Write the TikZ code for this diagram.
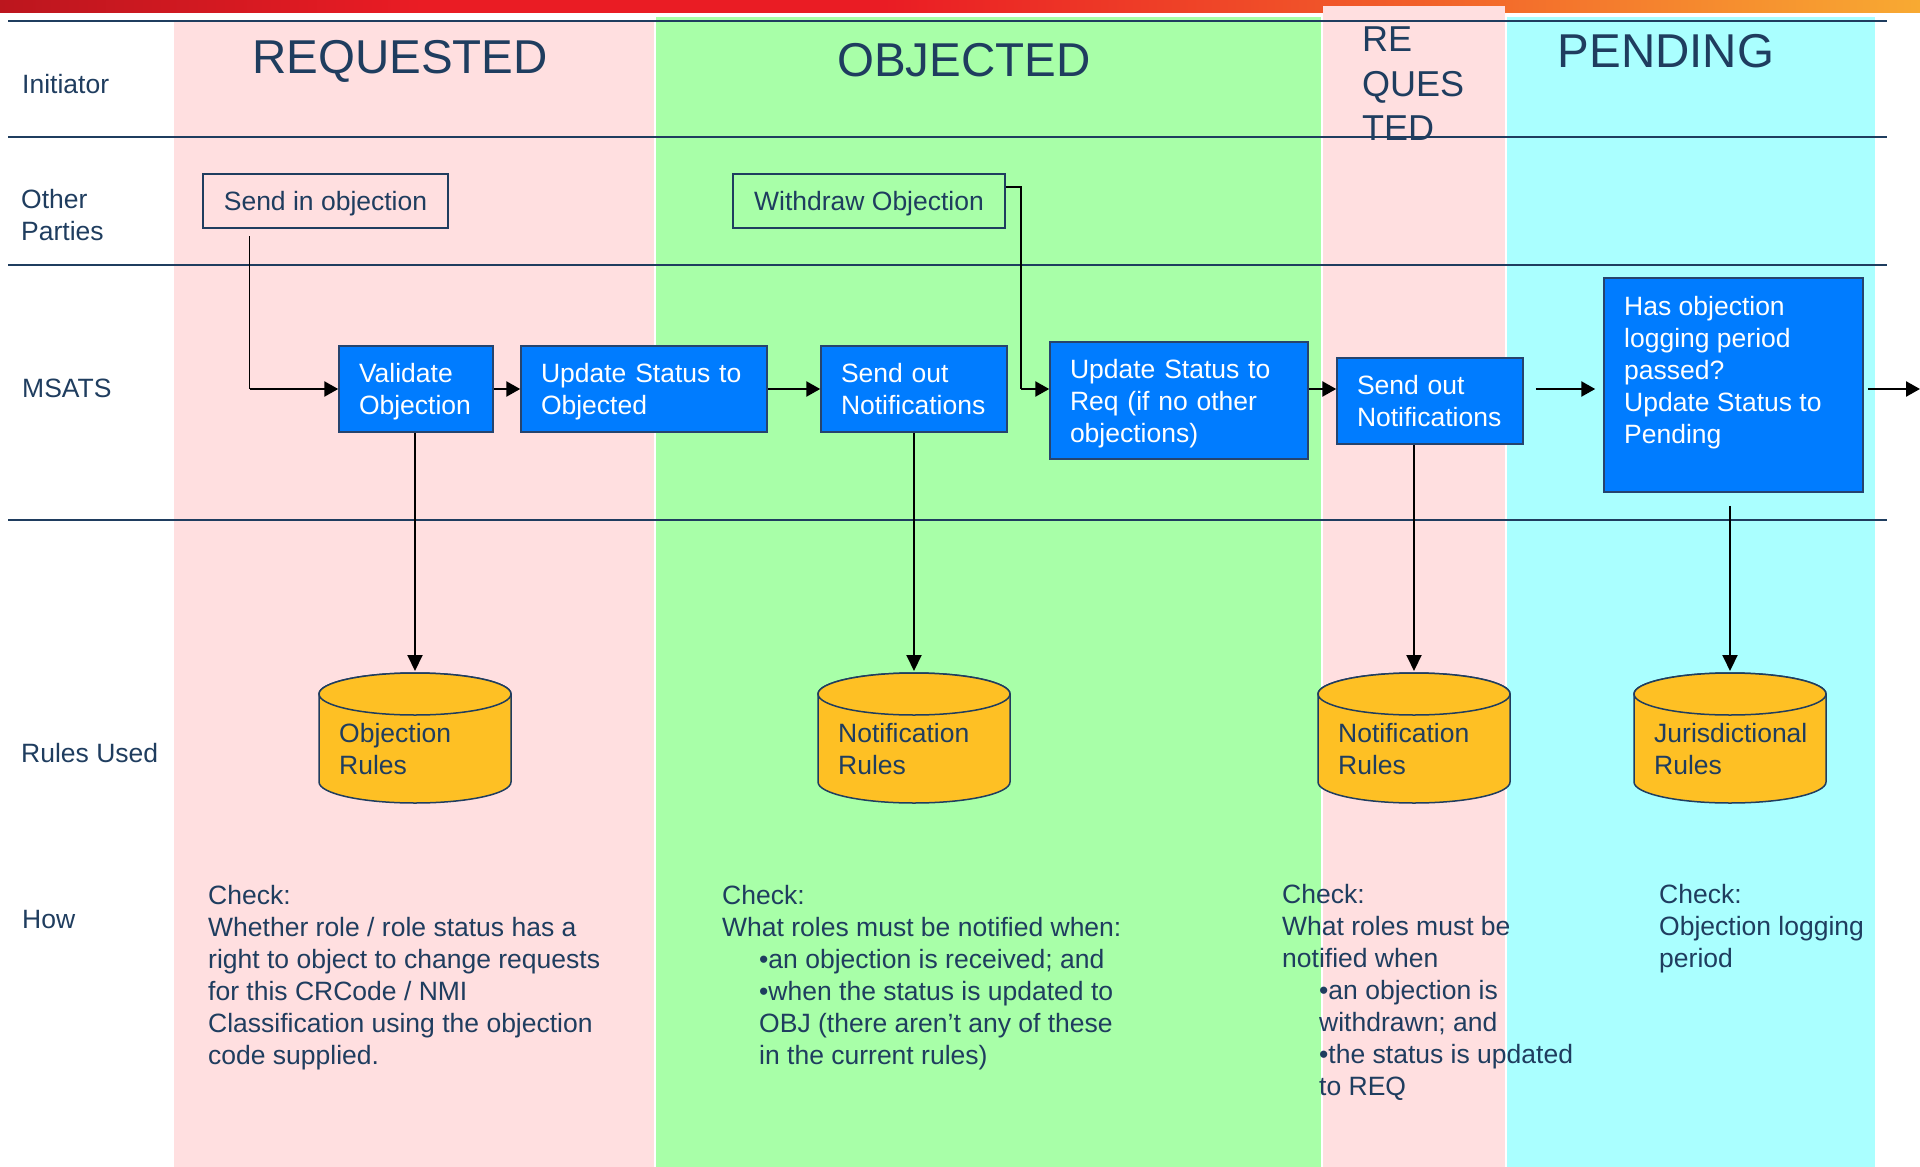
\documentclass[tikz,border=0pt]{standalone}
\usepackage{fontspec}
\setmainfont{Liberation Sans}
\usepackage{xcolor}
\usetikzlibrary{arrows.meta, calc, positioning}

\definecolor{barA}{RGB}{188,22,30}
\definecolor{barB}{RGB}{234,28,36}
\definecolor{barC}{RGB}{242,96,42}
\definecolor{barD}{RGB}{248,170,50}
\definecolor{bandpink}{RGB}{255,223,224}
\definecolor{bandgreen}{RGB}{168,255,168}
\definecolor{bandcyan}{RGB}{170,255,255}
\definecolor{lanenavy}{RGB}{31,61,95}
\definecolor{boxblue}{RGB}{0,124,255}
\definecolor{boxedge}{RGB}{38,68,110}
\definecolor{cylfill}{RGB}{254,192,36}

\pgfdeclarehorizontalshading{topbar}{100bp}{color(0bp)=(barA); color(25bp)=(barA);
    color(36bp)=(barB); color(48bp)=(barB); color(62bp)=(barC); color(75bp)=(barD);
    color(100bp)=(barD)}

\newcommand{\bodysize}{\fontsize{26.5}{32}\selectfont}
\newcommand{\ind}{\hspace*{37pt}}

\begin{document}
\begin{tikzpicture}[x=1pt, y=-1pt,
    lane/.style={draw=lanenavy, line width=2pt},
    lanelabel/.style={text=lanenavy, font=\bodysize, inner sep=0pt, align=left},
    phase/.style={text=lanenavy, font=\fontsize{47.5}{57}\selectfont, inner sep=0pt, anchor=base},
    partybox/.style={draw=lanenavy, line width=1.5pt, text=lanenavy, font=\bodysize,
        minimum height=54, inner sep=0pt, text depth=0pt},
    msbox/.style={draw=boxedge, fill=boxblue, line width=1.5pt, text=white, font=\bodysize,
        inner xsep=20pt, inner ysep=0pt, align=left, text height=19.5pt, text depth=32pt},
    boxtext/.style={text=white, font=\bodysize, inner sep=0pt, align=left},
    rulescyl/.style={draw=lanenavy, fill=cylfill, line width=1.5pt},
    rulestext/.style={text=lanenavy, font=\bodysize, inner sep=0pt, align=left},
    howtext/.style={text=lanenavy, font=\bodysize, inner sep=0pt, align=left, anchor=north west},
    thinline/.style={draw=black, line width=1.2pt},
    flowarrow/.style={draw=black, line width=2.5pt, -{Triangle[length=14pt, width=15pt]}},
    downarrow/.style={draw=black, line width=2pt, -{Triangle[length=16pt, width=15pt]}}
]
\useasboundingbox (0,0) rectangle (1920,1167);

% top bar
\shade[shading=topbar] (0,0) rectangle (1920,12);

% phase bands
\fill[bandpink] (174,21) rectangle (654,1167);
\fill[bandgreen] (656,17) rectangle (1321,1167);
\fill[bandpink] (1323,6) rectangle (1505,1167);
\fill[bandcyan] (1507,17) rectangle (1875,1167);

% swim lanes
\foreach \y in {21,136.5,265,520}
    \draw[lane] (8,\y) -- (1887,\y);

\node[lanelabel, anchor=base west] (initiator) at (22,93) {Initiator};
\node[lanelabel, anchor=north west] (others) at (21,189) {Other\\Parties};
\node[lanelabel, anchor=base west] (msats) at (22,397) {MSATS};
\node[lanelabel, anchor=base west] (rulesused) at (21,762) {Rules Used};
\node[lanelabel, anchor=base west] (how) at (22,928) {How};

% phase titles
\node[phase] (reqtitle) at (400,73) {REQUESTED};
\node[phase] (objtitle) at (964,76) {OBJECTED};
\node[phase] (pendtitle) at (1666,67) {PENDING};
\node[text=lanenavy, font=\fontsize{36}{44.5}\selectfont, inner sep=0pt, align=left,
    anchor=north west] (retitle) at (1362,27) {RE\\QUES\\TED};

% other parties
\node[partybox, minimum width=245] (sendin) at (325.5,201) {Send in objection};
\node[partybox, minimum width=272] (withdraw) at (869,201) {Withdraw Objection};

% msats steps
\node[msbox, minimum width=154, minimum height=86, text width=114] (validate) at (416,389) {Validate\\Objection};
\node[msbox, minimum width=246, minimum height=86, text width=206] (updobj) at (644,389) {Update Status to\\Objected};
\node[msbox, minimum width=186, minimum height=86, text width=146] (notify) at (914,389) {Send out\\Notifications};
\node[msbox, minimum width=258, minimum height=117, text width=218, text depth=64pt] (updreq) at (1179,400.5) {Update Status to\\Req (if no other\\objections)};
\node[msbox, minimum width=186, minimum height=86, text width=146] (notifyb) at (1430,401) {Send out\\Notifications};
\node[msbox, minimum width=259, minimum height=214] (pending) at (1733.5,385) {};
\node[boxtext, anchor=north west] (pendtxt) at (1624,296) {Has objection\\logging period\\passed?\\Update Status to\\Pending};

\coordinate (sendstart) at (249.5,236);
\coordinate (sendbend) at (249.5,389);
\coordinate (wdbend) at (1021,389);
\coordinate (exit) at (1920,389);

\draw[thinline] (sendstart) -- (sendbend);
\draw[flowarrow] (sendbend) -- (validate.west);
\draw[flowarrow] (validate.east) -- (updobj.west);
\draw[flowarrow] (updobj.east) -- (notify.west);
\draw[thinline] ([yshift=14pt]withdraw.east) -| (wdbend);
\draw[flowarrow] (wdbend) -- (wdbend -| updreq.west);
\draw[flowarrow] (updreq.east |- validate.east) -- (notifyb.west |- validate.east);
\draw[flowarrow] ($(notifyb.east |- validate.east)+(12,0)$) -- ($(pending.west |- validate.east)+(-8,0)$);
\draw[flowarrow] ($(pending.east |- validate.east)+(4,0)$) -- (exit);

% rules used
\foreach \cx/\nm/\txt in {415/objrules/Objection, 914/notrules/Notification,
        1414/notrulesb/Notification, 1730/jurrules/Jurisdictional}{
    \filldraw[rulescyl] (\cx-96,694) -- (\cx-96,782)
        arc[start angle=180, end angle=0, x radius=96, y radius=21]
        -- (\cx+96,694)
        arc[start angle=0, end angle=-180, x radius=96, y radius=21] -- cycle;
    \draw[rulescyl] (\cx,694) ellipse [x radius=96, y radius=21];
    \coordinate (\nm-top) at (\cx,671);
    \node[rulestext, anchor=west] (\nm) at (\cx-76,749) {\txt\\Rules};
}

\draw[downarrow] (objrules-top |- validate.south) -- (objrules-top);
\draw[downarrow] (notrules-top |- notify.south) -- (notrules-top);
\draw[downarrow] (notrulesb-top |- notifyb.south) -- (notrulesb-top);
\draw[downarrow] ($(jurrules-top |- pending.south)+(0,13)$) -- (jurrules-top);

% how
\node[howtext] (howreq) at (208,885) {Check:\\Whether role / role status has a\\right to object to change requests\\for this CRCode / NMI\\Classification using the objection\\code supplied.};
\node[howtext] (howobj) at (722,885) {Check:\\What roles must be notified when:\\\ind•an objection is received; and\\\ind•when the status is updated to\\\ind OBJ (there aren’t any of these\\\ind in the current rules)};
\node[howtext] (howre) at (1282,884) {Check:\\What roles must be\\notified when\\\ind•an objection is\\\ind withdrawn; and\\\ind•the status is updated\\\ind to REQ};
\node[howtext] (howpend) at (1659,884) {Check:\\Objection logging\\period};

\end{tikzpicture}
\end{document}
